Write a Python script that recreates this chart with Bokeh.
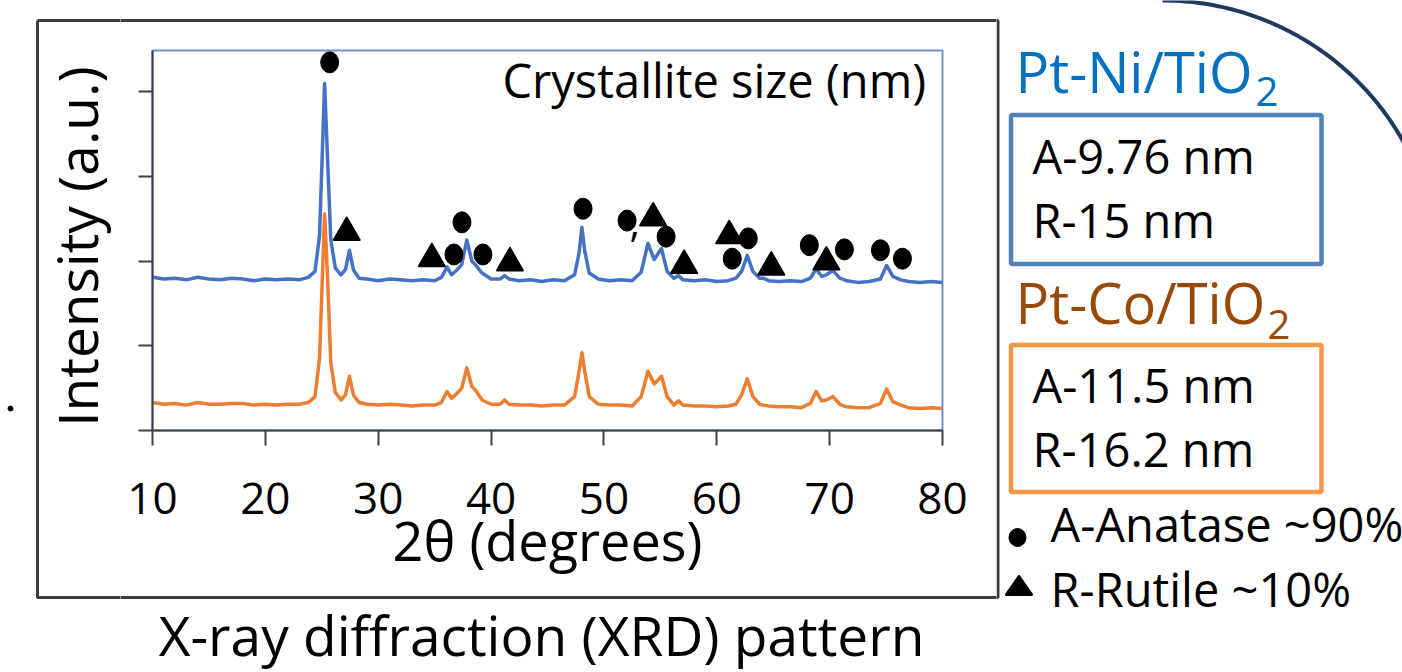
import numpy as np
from bokeh.plotting import figure
from bokeh.models import Range1d, FixedTicker, Label
from bokeh.layouts import row, column
from bokeh.embed import file_html
from bokeh.resources import INLINE

# ---------------- data ----------------
two_theta = [10.0, 11.0, 12.0, 13.0, 14.0, 15.0, 16.0, 17.0, 18.0, 19.0, 20.0, 21.0, 22.0, 23.0,
             23.8, 24.4, 24.8, 25.05, 25.25, 25.5, 25.8, 26.2, 26.7, 27.1, 27.45, 27.8, 28.3,
             29.0, 30.0, 31.0, 32.0, 33.0, 34.0, 35.0, 35.6, 36.1, 36.5, 37.0, 37.4, 37.85,
             38.3, 38.6, 39.2, 40.0, 40.8, 41.2, 41.6, 42.5, 43.5, 44.5, 45.5, 46.5, 47.4,
             47.8, 48.05, 48.3, 48.7, 49.5, 50.5, 51.5, 52.5, 53.3, 53.9, 54.45, 55.1, 55.6,
             56.2, 56.6, 57.0, 58.0, 59.0, 60.0, 61.0, 61.7, 62.2, 62.7, 63.2, 63.8, 64.1,
             64.6, 65.5, 66.5, 67.5, 68.3, 68.8, 69.3, 69.7, 70.3, 70.9, 71.5, 72.5, 73.5,
             74.5, 75.05, 75.6, 76.3, 77.0, 78.0, 79.0, 80.0]

intensity_ni = [1.81, 1.79, 1.80, 1.78, 1.81, 1.79, 1.78, 1.80, 1.79, 1.77, 1.79, 1.78, 1.79, 1.78,
                1.81, 1.88, 2.30, 3.30, 4.10, 3.25, 2.25, 1.92, 1.84, 1.90, 2.13, 1.90, 1.80,
                1.79, 1.77, 1.79, 1.78, 1.77, 1.78, 1.77, 1.81, 1.93, 1.84, 1.90, 1.96, 2.25,
                2.00, 1.96, 1.86, 1.79, 1.79, 1.83, 1.79, 1.77, 1.78, 1.76, 1.78, 1.77, 1.84,
                2.10, 2.40, 2.12, 1.86, 1.79, 1.77, 1.78, 1.77, 1.87, 2.21, 2.02, 2.15, 1.88,
                1.80, 1.83, 1.78, 1.77, 1.78, 1.76, 1.77, 1.80, 1.88, 2.07, 1.88, 1.80, 1.80,
                1.77, 1.76, 1.77, 1.76, 1.80, 1.91, 1.82, 1.84, 1.89, 1.80, 1.77, 1.75, 1.76,
                1.79, 1.95, 1.82, 1.78, 1.76, 1.75, 1.76, 1.75]

intensity_co = [0.33, 0.31, 0.32, 0.30, 0.33, 0.31, 0.31, 0.32, 0.32, 0.30, 0.31, 0.30, 0.31, 0.31,
                0.33, 0.40, 0.85, 1.80, 2.56, 1.85, 0.80, 0.45, 0.36, 0.42, 0.64, 0.42, 0.33,
                0.31, 0.30, 0.31, 0.30, 0.29, 0.30, 0.30, 0.33, 0.46, 0.38, 0.44, 0.50, 0.74,
                0.52, 0.48, 0.36, 0.31, 0.31, 0.36, 0.31, 0.30, 0.30, 0.29, 0.30, 0.30, 0.40,
                0.70, 0.92, 0.70, 0.40, 0.31, 0.30, 0.30, 0.29, 0.40, 0.70, 0.55, 0.64, 0.40,
                0.30, 0.35, 0.30, 0.29, 0.29, 0.28, 0.29, 0.31, 0.42, 0.61, 0.40, 0.31, 0.30,
                0.29, 0.28, 0.28, 0.27, 0.32, 0.46, 0.35, 0.36, 0.40, 0.31, 0.28, 0.27, 0.27,
                0.32, 0.49, 0.34, 0.30, 0.27, 0.26, 0.27, 0.26]

anatase_x = [25.70, 36.71, 37.42, 39.28, 48.15, 52.05, 55.51, 62.79, 61.37, 68.20, 71.31, 74.50, 76.45]
anatase_y = [4.35, 2.08, 2.46, 2.08, 2.62, 2.48, 2.29, 2.27, 2.03, 2.19, 2.14, 2.13, 2.03]
rutile_x = [27.21, 34.75, 41.67, 54.36, 57.11, 61.10, 64.83, 69.71]
rutile_y = [2.34, 2.03, 1.98, 2.51, 1.95, 2.30, 1.93, 1.99]

x_ticks = [10, 20, 30, 40, 50, 60, 70, 80]
y_ticks = [0, 1, 2, 3, 4]

sample_names = ["Pt-Ni/TiO", "Pt-Co/TiO"]
sizes_ni = ["A-9.76 nm", "R-15 nm"]
sizes_co = ["A-11.5 nm", "R-16.2 nm"]
phases = ["A-Anatase ~90%", "R-Rutile ~10%"]

BLUE = "#4472C4"
ORANGE = "#ED7D31"
FRAME = "#3C3C3C"
FONT = "Open Sans"
MID = 0.388  # distance (in em) between the middle line and the baseline of Open Sans


def tile(x0, x1, y0, y1):
    f = figure(width=x1 - x0, height=y1 - y0, x_range=Range1d(x0, x1), y_range=Range1d(y1, y0),
               output_backend="svg", toolbar_location=None,
               x_axis_location=None, y_axis_location=None,
               min_border=0, min_border_left=0, min_border_right=0,
               min_border_top=0, min_border_bottom=0)
    f.grid.visible = False
    f.outline_line_color = None
    f.background_fill_color = "white"
    f.border_fill_color = "white"
    # outer frame of the chart panel
    f.line([37, 997.5, 997.5, 37, 37], [20, 20, 597, 597, 20], line_color=FRAME, line_width=3)
    return f


def lab(f, x, baseline, text, size, color="black", align="left", rng=None, angle=0.0):
    kw = dict(x_range_name=rng, y_range_name=rng) if rng else {}
    if angle:
        x_anchor, y_anchor = x - MID * size, baseline
    else:
        x_anchor, y_anchor = x, baseline - MID * size
    f.add_layout(Label(x=x_anchor, y=y_anchor, text=text, text_font=FONT,
                       text_font_size=f"{size}px", text_color=color, text_align=align,
                       text_baseline="middle", angle=angle, **kw))


# ---------------- chart (XRD) ----------------
pa = figure(width=876, height=573, x_range=Range1d(10, 80), y_range=Range1d(0, 4.49),
            output_backend="svg", toolbar_location=None,
            min_border_left=32, min_border_right=54, min_border_top=28, min_border_bottom=165)
pa.extra_x_ranges = {"px": Range1d(152, 942)}
pa.extra_y_ranges = {"px": Range1d(430, 50)}
pa.background_fill_color = "white"
pa.border_fill_color = "white"
pa.xgrid.visible = False
pa.ygrid.visible = False
pa.outline_line_color = "#6F93D3"
pa.outline_line_width = 2

ax = pa.xaxis[0]
ax.ticker = FixedTicker(ticks=x_ticks)
ax.major_tick_out = 15
ax.major_tick_in = 0
ax.minor_tick_out = 0
ax.minor_tick_in = 0
ax.axis_line_color = "#404040"
ax.axis_line_width = 2
ax.major_tick_line_color = "#404040"
ax.major_tick_line_width = 2
ax.major_label_text_font = FONT
ax.major_label_text_font_size = "44px"
ax.major_label_text_color = "black"
ax.major_label_standoff = 37
ax.axis_label = "2θ (degrees)"
ax.axis_label_text_font = FONT
ax.axis_label_text_font_size = "54px"
ax.axis_label_text_font_style = "normal"
ax.axis_label_text_color = "black"
ax.axis_label_standoff = -14

ay = pa.yaxis[0]
ay.ticker = FixedTicker(ticks=y_ticks)
ay.major_tick_out = 14
ay.major_tick_in = 0
ay.minor_tick_out = 0
ay.minor_tick_in = 0
ay.axis_line_color = "#404040"
ay.axis_line_width = 2
ay.major_tick_line_color = "#404040"
ay.major_tick_line_width = 2
ay.major_label_overrides = {t: "" for t in y_ticks}
ay.major_label_standoff = 0

pa.line(two_theta, intensity_co, line_color=ORANGE, line_width=3.5, line_join="round")
pa.line(two_theta, intensity_ni, line_color=BLUE, line_width=3.5, line_join="round")

pa.ellipse(anatase_x, anatase_y, width=18, height=21, width_units="screen", height_units="screen",
           fill_color="black", line_color="black")
pa.scatter(rutile_x, rutile_y, marker="triangle", size=26, fill_color="black",
           line_color="black", line_width=2, line_join="round")

lab(pa, 629, 238, ",", 40, rng="px")
lab(pa, 502, 98, "Crystallite size (nm)", 47, rng="px")

# ---------------- surrounding tiles ----------------
pl = tile(0, 120, 0, 672)
pl.ellipse([10], [408], width=5, height=5, fill_color="black", line_color="black")
lab(pl, 97, 246, "Intensity (a.u.)", 55, align="center", angle=np.pi / 2)

pt = tile(120, 996, 0, 22)

pb = tile(120, 996, 595, 672)
lab(pb, 541, 655, "X-ray diffraction (XRD) pattern", 55, align="center")

pr = tile(996, 1402, 0, 672)
lab(pr, 1015, 92, sample_names[0], 56, color="#0070C0")
lab(pr, 1255, 107, "2", 40, color="#0070C0")
pr.quad(left=[1010.5], right=[1321], top=[114.5], bottom=[263.5], fill_color=None,
        line_color="#4F81BD", line_width=4.5)
lab(pr, 1032, 174, sizes_ni[0], 47)
lab(pr, 1032, 238, sizes_ni[1], 47)

lab(pr, 1015, 323, sample_names[1], 56, color="#984807")
lab(pr, 1267, 340, "2", 40, color="#984807")
pr.quad(left=[1010.5], right=[1321], top=[344.5], bottom=[491.5], fill_color=None,
        line_color="#F79646", line_width=4.5)
lab(pr, 1032, 403, sizes_co[0], 47)
lab(pr, 1032, 467, sizes_co[1], 47)

pr.ellipse([1017], [537], width=17, height=18, fill_color="black", line_color="black")
lab(pr, 1050, 542, phases[0], 47)
pr.patch([1006, 1031, 1018.5], [594, 594, 576], fill_color="black", line_color="black",
         line_width=3, line_join="round")
lab(pr, 1050, 607, phases[1], 47)

phi = np.linspace(np.radians(90), np.radians(15), 80)
pr.line(1162 + 276 * np.cos(phi), 276 - 276 * np.sin(phi), line_color="#1F3A5F", line_width=4)

layout = row(pl, column(pt, row(pa), pb), pr)
open("out.html", "w").write(file_html(layout, INLINE))
